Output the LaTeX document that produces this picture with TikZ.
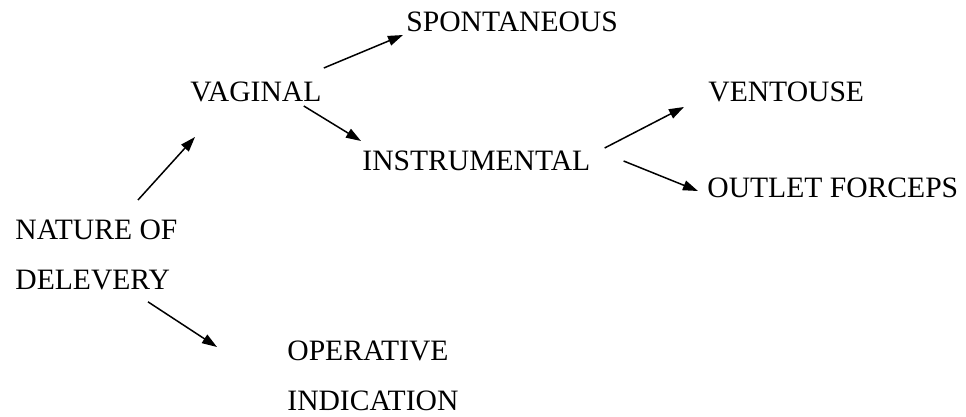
\documentclass[tikz,border=0pt]{standalone}
\usepackage{fontspec}
\setmainfont{Liberation Serif}
\usetikzlibrary{arrows.meta,calc}

\begin{document}
\begin{tikzpicture}[x=0.5pt,y=-0.5pt,
  every node/.style={font=\fontsize{14.8}{25}\selectfont,inner sep=0pt,align=left},
  arr/.style={line width=.75pt,-{Triangle[length=7.5pt,width=5pt]}}]
\useasboundingbox (0,0) rectangle (966,417);
\node[anchor=north west] (nat) at (15,220) {NATURE OF\\DELEVERY};
\node[anchor=base west] (vag) at (190,102) {VAGINAL};
\node[anchor=base west] (spo) at (406,32) {SPONTANEOUS};
\node[anchor=base west] (ins) at (362,171) {INSTRUMENTAL};
\node[anchor=base west] (ven) at (708,102) {VENTOUSE};
\node[anchor=base west] (out) at (707,198) {OUTLET FORCEPS};
\node[anchor=north west] (ope) at (287,341) {OPERATIVE\\INDICATION};
\draw[arr] ($(nat.north west)+(123,-20)$) -- ($(vag.base west)+(5,35)$);
\draw[arr] ($(vag.base east)+(2,-34)$) -- ($(spo.base west)+(-3,3)$);
\draw[arr] ($(vag.base east)+(-18,4)$) -- ($(ins.base west)+(-1,-30)$);
\draw[arr] ($(ins.base east)+(14,-23)$) -- ($(ven.base west)+(-24,5)$);
\draw[arr] ($(ins.base east)+(33,-10)$) -- ($(out.base west)+(-9,-7)$);
\draw[arr] ($(nat.south west)+(133,11)$) -- ($(ope.north west)+(-70,6)$);
\end{tikzpicture}
\end{document}
